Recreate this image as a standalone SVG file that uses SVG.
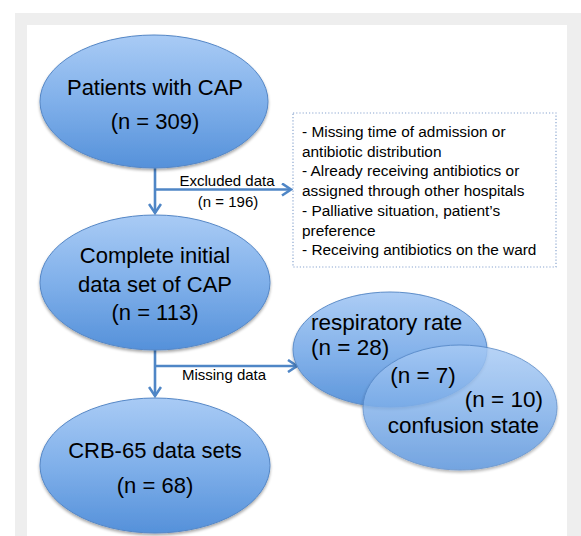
<svg xmlns="http://www.w3.org/2000/svg" width="581" height="536" viewBox="0 0 581 536">
<defs>
<linearGradient id="g" x1="0" y1="0" x2="0" y2="1">
<stop offset="0" stop-color="#a9cbf5"/>
<stop offset="0.5" stop-color="#80b0ea"/>
<stop offset="1" stop-color="#5591da"/>
</linearGradient>
<filter id="sh" x="-10%" y="-10%" width="120%" height="125%">
<feGaussianBlur in="SourceAlpha" stdDeviation="1.5"/>
<feOffset dy="2" result="b"/>
<feComponentTransfer><feFuncA type="linear" slope="0.35"/></feComponentTransfer>
<feMerge><feMergeNode/><feMergeNode in="SourceGraphic"/></feMerge>
</filter>
<marker id="ah" markerWidth="14" markerHeight="14" refX="11" refY="7" orient="auto" markerUnits="userSpaceOnUse">
<path d="M2,1 L11,7 L2,13" fill="none" stroke="#4f86c6" stroke-width="2.6" stroke-linejoin="miter"/>
</marker>
</defs>
<style>
.ell{fill:url(#g);stroke:#5587c6;stroke-width:1;filter:url(#sh)}
.t{font-family:"Liberation Sans",Arial,sans-serif;fill:#000}
.big{font-size:22px;text-anchor:middle}
.ven{font-size:22.5px}
.sm{font-size:15px}
.box{font-size:15.4px}
.con{stroke:#4f86c6;stroke-width:2.6;fill:none}
</style>
<rect x="0" y="0" width="581" height="536" fill="#ffffff"/>
<rect x="15" y="13" width="566" height="523" fill="#eeeeee"/>
<rect x="27" y="25" width="540" height="511" fill="#ffffff"/>

<g id="connectors">
<path class="con" d="M155,168 V213" marker-end="url(#ah)"/>
<path class="con" d="M155,189.5 H291" marker-end="url(#ah)"/>
<path class="con" d="M155,350 V396" marker-end="url(#ah)"/>
<path class="con" d="M155,366 H297" marker-end="url(#ah)"/>
<text class="t sm" x="227" y="186" text-anchor="middle">Excluded data</text>
<text class="t sm" x="228" y="207" text-anchor="middle">(n = 196)</text>
<text class="t sm" x="224" y="380" text-anchor="middle">Missing data</text>
</g>

<g id="patients">
<ellipse class="ell" cx="154" cy="101.5" rx="114" ry="66.5"/>
<text class="t big" x="155" y="95">Patients with CAP</text>
<text class="t big" x="155" y="129">(n = 309)</text>
</g>

<g id="excluded">
<rect x="293" y="113" width="263" height="154" fill="#ffffff" stroke="#8aa6cf" stroke-width="1.2" stroke-dasharray="1.2,2"/>
<text class="t box" x="302" y="137">- Missing time of admission or</text>
<text class="t box" x="302" y="156.7">antibiotic distribution</text>
<text class="t box" x="302" y="176.4">- Already receiving antibiotics or</text>
<text class="t box" x="302" y="196.1">assigned through other hospitals</text>
<text class="t box" x="302" y="215.8">- Palliative situation, patient’s</text>
<text class="t box" x="302" y="235.5">preference</text>
<text class="t box" x="302" y="255.2">- Receiving antibiotics on the ward</text>
</g>

<g id="complete">
<ellipse class="ell" cx="155" cy="282.5" rx="115" ry="67.5"/>
<text class="t big" x="155" y="263">Complete initial</text>
<text class="t big" x="155" y="292">data set of CAP</text>
<text class="t big" x="155" y="320">(n = 113)</text>
</g>

<g id="crb65">
<ellipse class="ell" cx="155" cy="465.5" rx="115" ry="67.5"/>
<text class="t big" x="155" y="458">CRB-65 data sets</text>
<text class="t big" x="155" y="493">(n = 68)</text>
</g>

<g id="respiratory">
<ellipse class="ell" cx="390" cy="349.5" rx="97" ry="57.5" opacity="0.95"/>
</g>
<g id="confusion">
<ellipse class="ell" cx="460" cy="407.5" rx="97" ry="62.5" opacity="0.82"/>
</g>
<g id="venn-labels">
<text class="t ven" x="311" y="330">respiratory rate</text>
<text class="t ven" x="311" y="355">(n = 28)</text>
<text class="t ven" x="423" y="383" text-anchor="middle">(n = 7)</text>
<text class="t ven" x="543" y="407" text-anchor="end">(n = 10)</text>
<text class="t ven" x="539" y="433" text-anchor="end">confusion state</text>
</g>
</svg>
